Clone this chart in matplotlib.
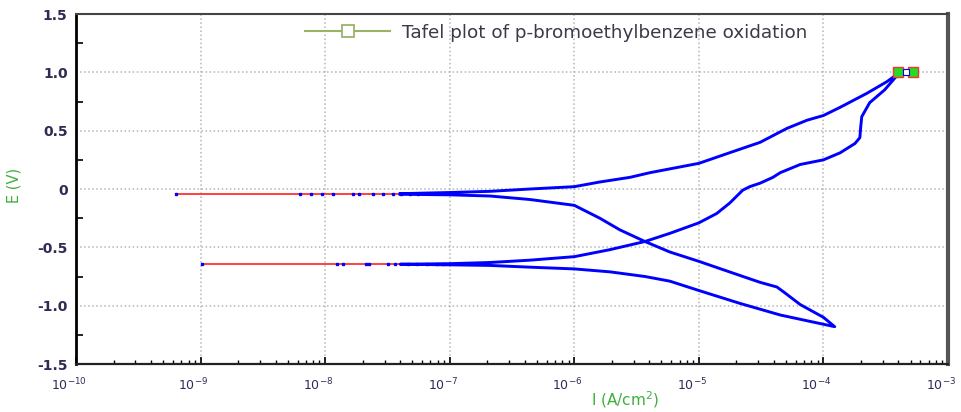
import matplotlib
matplotlib.use('Agg')
from matplotlib import pyplot as plt, ticker
from matplotlib.lines import Line2D
from matplotlib.transforms import ScaledTranslation
import numpy as np


# Data (I in A/cm2, E in V)

# forward anodic sweep
branch_a_I = [4.0e-8, 1.0e-7, 2.1e-7, 4.4e-7, 1.0e-6, 1.6e-6, 2.8e-6, 4.05e-6, 1.0e-5, 1.87e-5,
              3.1e-5, 5.1e-5, 7.4e-5, 1.0e-4, 1.36e-4, 2.23e-4, 3.23e-4, 4.1e-4]
branch_a_E = [-0.04, -0.03, -0.02, 0.0, 0.02, 0.06, 0.10, 0.14, 0.22, 0.32,
              0.40, 0.52, 0.59, 0.63, 0.70, 0.82, 0.92, 1.0]

# reverse sweep from 1.0 V
branch_b_I = [4.1e-4, 3.1e-4, 2.35e-4, 2.03e-4, 1.99e-4, 1.96e-4, 1.79e-4, 1.36e-4, 1.0e-4, 6.5e-5,
              4.5e-5, 3.93e-5, 3.1e-5, 2.56e-5, 2.25e-5, 1.77e-5, 1.39e-5, 1.0e-5, 5.85e-6, 3.69e-6,
              1.93e-6, 1.0e-6, 4.4e-7, 2.1e-7, 1.0e-7, 4.0e-8]
branch_b_E = [1.0, 0.85, 0.74, 0.62, 0.53, 0.44, 0.39, 0.31, 0.25, 0.21,
              0.14, 0.10, 0.05, 0.02, -0.01, -0.12, -0.21, -0.29, -0.38, -0.45,
              -0.52, -0.58, -0.61, -0.63, -0.64, -0.645]

# cathodic part down to -1.2 V
branch_c_I = [4.0e-8, 1.0e-7, 2.1e-7, 4.4e-7, 1.0e-6, 1.93e-6, 3.69e-6, 5.85e-6, 1.0e-5, 2.13e-5,
              4.5e-5, 1.23e-4]
branch_c_E = [-0.645, -0.65, -0.655, -0.67, -0.685, -0.71, -0.75, -0.79, -0.87, -0.98,
              -1.08, -1.18]

# back up from -1.2 V
branch_d_I = [1.23e-4, 1.0e-4, 6.5e-5, 4.9e-5, 4.23e-5, 3.1e-5, 1.87e-5, 1.0e-5, 5.85e-6, 3.69e-6,
              2.32e-6, 1.6e-6, 1.0e-6, 4.4e-7, 2.1e-7, 1.0e-7, 4.0e-8]
branch_d_E = [-1.18, -1.10, -0.99, -0.89, -0.84, -0.80, -0.72, -0.62, -0.54, -0.45,
              -0.35, -0.25, -0.14, -0.09, -0.06, -0.05, -0.045]

# low-current points near the zero crossings
upper_dots_I = [6.3e-10, 6.3e-9, 7.7e-9, 9.4e-9, 1.16e-8, 1.67e-8, 1.87e-8, 2.42e-8, 2.91e-8,
                3.5e-8, 4.1e-8, 4.8e-8, 5.6e-8]
lower_dots_I = [1.02e-9, 1.24e-8, 1.39e-8, 2.12e-8, 2.25e-8, 3.19e-8, 3.63e-8, 4.6e-8, 5.5e-8,
                6.6e-8, 7.9e-8, 8.8e-8]
upper_E0 = -0.04
lower_E0 = -0.643

upper_fit_I = [6.3e-10, 1.0e-7]
lower_fit_I = [1.02e-9, 1.0e-7]

# end markers at 1.0 V
end_I = [3.95e-4, 5.2e-4]
end_E = [1.0, 1.0]

legend_label = 'Tafel plot of p-bromoethylbenzene oxidation'
x_ticks = [1e-10, 1e-9, 1e-8, 1e-7, 1e-6, 1e-5, 1e-4, 1e-3]
x_ticklabels = ['$10^{-10}$', '$10^{-9}$', '$10^{-8}$', '$10^{-7}$',
                '$10^{-6}$', '$10^{-5}$', '$10^{-4}$', '$10^{-3}$']
y_ticks = [-1.5, -1.0, -0.5, 0, 0.5, 1.0, 1.5]
y_ticklabels = ['-1.5', '-1.0', '-0.5', '0', '0.5', '1.0', '1.5']

text_col = '#302b55'
label_col = '#3fae3f'
leg_col = '#9ab36b'


fig = plt.figure(figsize=(9.61, 4.12), dpi=100)
ax = fig.add_axes([0.0791, 0.1165, 0.9074, 0.8495])

# red lines at the low-current ends
ax.plot(upper_fit_I, [upper_E0] * 2, color='#ff2020', lw=1.2, zorder=3)
ax.plot(lower_fit_I, [lower_E0] * 2, color='#ff2020', lw=1.2, zorder=3)

# the whole scan as one blue path
all_I = branch_a_I + branch_b_I + branch_c_I + branch_d_I
all_E = branch_a_E + branch_b_E + branch_c_E + branch_d_E
ax.plot(all_I, all_E, color='#0000ff', lw=2.1, solid_joinstyle='round', zorder=4)

ax.plot(upper_dots_I, [upper_E0] * len(upper_dots_I), ls='none', marker='s', ms=1.8,
        color='#0000ff', zorder=5)
ax.plot(lower_dots_I, [lower_E0] * len(lower_dots_I), ls='none', marker='s', ms=1.8,
        color='#0000ff', zorder=5)

ax.plot(end_I, end_E, ls='none', marker='s', ms=7, mfc='#22dd22', mec='#ff3030', mew=1, zorder=6)
ax.plot([4.6e-4], [1.0], ls='none', marker='s', ms=4, mfc='white', mec='#0000ff', mew=0.8, zorder=7)

ax.set_xscale('log')
ax.set_xlim(1e-10, 1e-3)
ax.set_ylim(-1.5, 1.5)

ax.set_xticks(x_ticks)
ax.set_xticklabels(x_ticklabels)
ax.xaxis.set_minor_locator(ticker.LogLocator(base=10, subs=np.arange(2, 10), numticks=20))
ax.xaxis.set_minor_formatter(ticker.NullFormatter())
ax.set_yticks(y_ticks)
ax.set_yticklabels(y_ticklabels)
ax.yaxis.set_minor_locator(ticker.MultipleLocator(0.25))

ax.tick_params(axis='x', which='major', direction='in', length=5, width=1.2, colors='black',
               labelcolor=text_col, labelsize=9, pad=9)
ax.tick_params(axis='x', which='minor', direction='in', length=3, width=1, colors='black')
ax.tick_params(axis='y', which='major', direction='in', length=0, labelcolor=text_col,
               labelsize=10, pad=6)
ax.tick_params(axis='y', which='minor', direction='in', length=5, width=1.2, colors='black')
for lab in ax.get_yticklabels():
    lab.set_fontweight('bold')

# x labels sit a little left of their ticks in the original
shift = ScaledTranslation(-7 / 100, 0, fig.dpi_scale_trans)
for lab in ax.get_xticklabels():
    lab.set_transform(lab.get_transform() + shift)

ax.grid(True, which='major', ls=':', color='#b5b5b5', lw=1.1)

ax.spines['left'].set_linewidth(2)
ax.spines['left'].set_color('black')
ax.spines['bottom'].set_linewidth(1.6)
ax.spines['bottom'].set_color('#222222')
ax.spines['top'].set_linewidth(1.5)
ax.spines['top'].set_color('#444444')
ax.spines['right'].set_linewidth(3)
ax.spines['right'].set_color('#555555')

ax.set_xlabel('I (A/cm$^2$)', color=label_col, fontsize=11)
ax.xaxis.set_label_coords(0.63, -0.072)
ax.set_ylabel('E (V)', color=label_col, fontsize=10.5)
ax.yaxis.set_label_coords(-0.062, 0.51)

handle = Line2D([], [], color=leg_col, lw=1.5, marker='s', ms=8, mfc='white', mec=leg_col, mew=1.3)
leg = ax.legend([handle], [legend_label], loc='center left', bbox_to_anchor=(0.263, 0.946),
                frameon=False, borderpad=0, borderaxespad=0, handlelength=4.6,
                handletextpad=0.65, fontsize=13.2)
for t in leg.get_texts():
    t.set_color('#3a3a4a')

fig.savefig('out.png', dpi=100)
